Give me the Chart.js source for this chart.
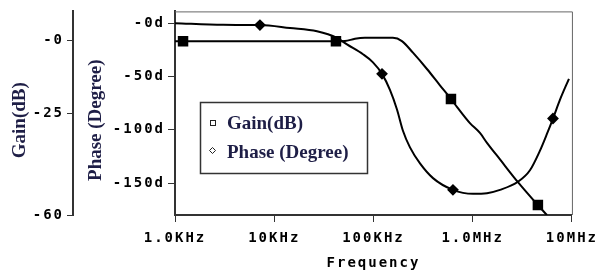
<!DOCTYPE html>
<html>
<head>
<meta charset="utf-8">
<script src="https://cdn.jsdelivr.net/npm/chart.js@4.4.1/dist/chart.umd.min.js"></script>
<style>
  html, body { margin: 0; padding: 0; background: #fff; }
</style>
</head>
<body>
<canvas id="myChart" width="601" height="277"></canvas>
<script>
// frequency axis
const freqTicks = [1e3, 1e4, 1e5, 1e6, 1e7];
const freqLabels = ['1.0KHz', '10KHz', '100KHz', '1.0MHz', '10MHz'];

// left axes
const gainTicks = [0, -25, -60];
const gainTickLabels = ['-0', '-25', '-60'];
const phaseTicks = [0, -50, -100, -150];
const phaseTickLabels = ['-0d', '-50d', '-100d', '-150d'];

// Gain(dB) trace
const gainFreq = [1000, 1205, 7178, 41880, 51640, 65160, 82040, 157000, 193600, 250000,
                  345900, 467700, 603900, 693400, 937600, 1183000, 1393000, 1884000,
                  2858000, 4539000, 5598000];
const gainDb = [-0.3, -0.3, -0.3, -0.3, -0.2, 0.6, 0.9, 0.9, -0.2, -4.2,
                -9.8, -15.4, -20.1, -22.8, -28.4, -31.8, -35.2, -40.9,
                -48.7, -56.6, -60.0];
const gainMarkerFreq = [1205, 41880, 603900, 4539000];

// Phase (Degree) trace
const phaseFreq = [1000, 3048, 7178, 14420, 26980, 42850, 54080, 78340, 98850, 121900,
                   146600, 172600, 198200, 233300, 294400, 398100, 632400, 1007000,
                   1393000, 1884000, 2858000, 3776000, 4764000, 5598000, 6442000,
                   7568000, 9333000];
const phaseDeg = [0, -1.6, -1.8, -4.6, -7.6, -13.8, -20.0, -29.2, -36.8, -47.6,
                  -62.6, -81, -101, -116.6, -131.6, -145.4, -156.4, -160.1,
                  -159.5, -156.4, -148.8, -138.0, -119.6, -104, -89.5,
                  -72, -52.2];
const phaseMarkerFreq = [7178, 121900, 632400, 6442000];

const tickFont = { family: 'DejaVu Sans Mono', size: 14, weight: 'bold' };
const titleFont = 'bold 19px "Liberation Serif"';
const titleColor = '#1e1e46';
const axisColor = '#333';

const myChartCanvas = document.getElementById('myChart');

// spaced-out pixel look for the axis text, plain text for the rest
const extras = {
    id: 'extras',
    beforeDraw(chart) {
        chart.ctx.letterSpacing = '2px';
    },
    beforeDatasetsDraw(chart) {
        const { ctx, chartArea: a } = chart;
        ctx.save();
        ctx.strokeStyle = '#666';
        ctx.lineWidth = 1;
        ctx.beginPath();
        ctx.moveTo(a.left, a.top + 0.5);
        ctx.lineTo(a.right + 0.5, a.top + 0.5);
        ctx.lineTo(a.right + 0.5, a.bottom);
        ctx.stroke();
        ctx.restore();
    },
    afterDraw(chart) {
        const ctx = chart.ctx;
        const a = chart.chartArea;
        const midY = (a.top + a.bottom) / 2 + 7;
        ctx.save();
        ctx.letterSpacing = '0px';
        ctx.font = titleFont;
        ctx.fillStyle = titleColor;
        ctx.textAlign = 'center';
        ctx.textBaseline = 'middle';

        // axis titles
        [['Gain(dB)', 20], ['Phase (Degree)', 96]].forEach(([t, x]) => {
            ctx.save();
            ctx.translate(x, midY);
            ctx.rotate(-Math.PI / 2);
            ctx.fillText(t, 0, 0);
            ctx.restore();
        });

        // legend box
        ctx.fillStyle = '#fff';
        ctx.fillRect(200, 102, 167, 71);
        ctx.strokeStyle = '#333';
        ctx.lineWidth = 1.5;
        ctx.strokeRect(200.5, 102.5, 167, 71);

        ctx.lineWidth = 1;
        ctx.strokeStyle = '#222';
        ctx.strokeRect(210.5, 120.5, 5, 5);
        ctx.beginPath();
        ctx.moveTo(212.5, 147.5);
        ctx.lineTo(215.5, 150.5);
        ctx.lineTo(212.5, 153.5);
        ctx.lineTo(209.5, 150.5);
        ctx.closePath();
        ctx.stroke();

        ctx.fillStyle = titleColor;
        ctx.textAlign = 'left';
        ctx.fillText('Gain(dB)', 227, 124);
        ctx.fillText('Phase (Degree)', 227, 153);
        ctx.restore();
    }
};

function pts(xs, ys) {
    return xs.map((x, i) => ({ x: x, y: ys[i] }));
}

const myChart = new Chart(myChartCanvas, {
    type: 'line',
    data: {
        datasets: [
            {
                label: 'Gain(dB)',
                data: pts(gainFreq, gainDb),
                yAxisID: 'gain',
                borderColor: '#000',
                backgroundColor: '#000',
                borderWidth: 2,
                cubicInterpolationMode: 'monotone',
                pointStyle: 'rect',
                pointRadius: c => gainMarkerFreq.includes(gainFreq[c.dataIndex]) ? 6 : 0,
                pointHoverRadius: 0
            },
            {
                label: 'Phase (Degree)',
                data: pts(phaseFreq, phaseDeg),
                yAxisID: 'phase',
                borderColor: '#000',
                backgroundColor: '#000',
                borderWidth: 2,
                cubicInterpolationMode: 'monotone',
                pointStyle: 'rectRot',
                pointRadius: c => phaseMarkerFreq.includes(phaseFreq[c.dataIndex]) ? 4.5 : 0,
                pointHoverRadius: 0
            }
        ]
    },
    options: {
        responsive: false,
        devicePixelRatio: 1,
        animation: false,
        layout: { padding: { top: 8, right: 29, left: 0, bottom: 0 } },
        plugins: {
            legend: { display: false },
            tooltip: { enabled: false }
        },
        scales: {
            x: {
                type: 'logarithmic',
                position: 'bottom',
                min: 1e3,
                max: 1e7,
                afterBuildTicks: s => { s.ticks = freqTicks.map(v => ({ value: v })); },
                afterFit: s => { s.height = 62; },
                ticks: {
                    callback: (v, i) => freqLabels[i],
                    autoSkip: false,
                    maxRotation: 0,
                    font: tickFont,
                    color: '#000',
                    padding: 8
                },
                grid: { drawOnChartArea: false, tickLength: 7, color: axisColor },
                border: { color: axisColor, width: 2 },
                title: {
                    display: true,
                    text: 'Frequency',
                    font: tickFont,
                    color: '#000',
                    padding: { top: 2, bottom: 5 }
                }
            },
            gain: {
                type: 'linear',
                position: 'left',
                weight: 1,
                min: -60,
                max: 10,
                afterBuildTicks: s => { s.ticks = gainTicks.map(v => ({ value: v })); },
                afterFit: s => { s.width = 73; },
                ticks: {
                    callback: (v, i) => gainTickLabels[i],
                    font: tickFont,
                    color: '#000',
                    padding: 3
                },
                grid: { drawOnChartArea: false, tickLength: 6, color: axisColor },
                border: { color: axisColor, width: 2 }
            },
            phase: {
                type: 'linear',
                position: 'left',
                weight: 0,
                min: -180,
                max: 11,
                afterBuildTicks: s => { s.ticks = phaseTicks.map(v => ({ value: v })); },
                afterFit: s => { s.width = 102; },
                ticks: {
                    callback: (v, i) => phaseTickLabels[i],
                    font: tickFont,
                    color: '#000',
                    padding: 3
                },
                grid: { drawOnChartArea: false, tickLength: 7, color: axisColor },
                border: { color: axisColor, width: 2 }
            }
        }
    },
    plugins: [extras]
});
</script>
</body>
</html>
